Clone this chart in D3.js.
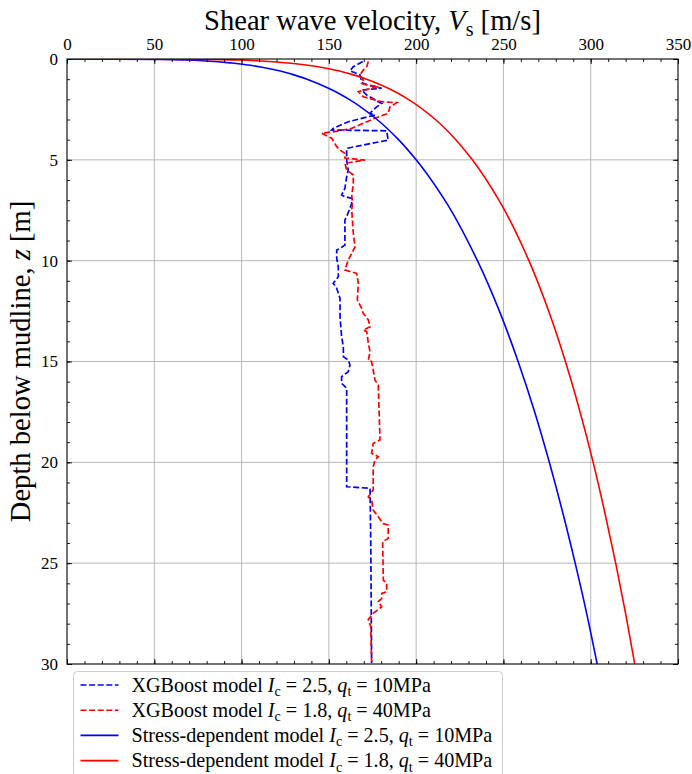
<!DOCTYPE html>
<html>
<head>
<meta charset="utf-8">
<script src="https://cdn.jsdelivr.net/npm/d3@7"></script>
<style>
body { margin: 0; background: #fff; }
text { font-family: "Liberation Serif", "DejaVu Serif", serif; fill: #000; }
</style>
</head>
<body>
<div class="vs-plot"></div>
<script>
// Stress-dependent model curves
const modelDepth = [0, 0.02, 0.05, 0.1, 0.2, 0.3, 0.5, 0.75, 1, 1.5, 2, 3, 4, 5, 7, 10, 12.5, 15, 17.5, 20, 22.5, 25, 27.5, 30];
const modelVsSoft = [0, 55, 68, 80, 94.5, 103.8, 117, 128.6, 137.5, 151, 161.6, 177.6, 189.9, 200, 216.4, 235.1, 247.7, 258.4, 267.9, 276.3, 284, 291.1, 297.7, 303.7];
const modelVsDense = [0, 82.2, 97.7, 111.3, 126.8, 136.9, 150.7, 162.6, 171.6, 185.2, 195.5, 211, 222.7, 232.2, 247.4, 264.6, 275.9, 285.5, 293.9, 301.4, 308.1, 314.3, 320, 325.2];

// XGBoost profile, Ic = 2.5, qt = 10MPa
const xgbSoftDepth = [0.13, 0.38, 0.58, 0.79, 1.13, 1.21, 1.40, 1.45, 1.54, 1.79, 2.12, 2.20, 2.37, 2.61, 2.69, 2.78, 3.11, 3.44, 3.52, 3.56, 4.02, 4.43, 5.01, 5.50, 5.84, 6.41, 6.74, 6.83, 6.91, 7.16, 7.82, 7.98, 9.22, 9.39, 9.47, 9.88, 10.30, 10.80, 11.12, 11.37, 11.87, 12.78, 13.77, 14.27, 14.76, 14.93, 15.17, 15.51, 15.75, 16.08, 16.33, 21.21, 21.29, 23.9, 29.95];
const xgbSoftVs = [169.4, 164.0, 162.1, 167.8, 168.8, 169.7, 176.4, 180.3, 168.8, 171.7, 178.3, 180.3, 177.4, 174.5, 173.6, 176.4, 161.1, 152.5, 151.6, 183.1, 184.0, 160.2, 160.2, 161.1, 160.2, 159.2, 157.3, 159.2, 163.1, 163.1, 160.2, 159.2, 159.2, 156.4, 154.5, 154.5, 155.4, 155.4, 152.5, 154.5, 156.4, 156.4, 157.3, 158.3, 158.3, 161.1, 162.1, 161.1, 157.3, 157.3, 160.2, 160.2, 173.6, 174.0, 174.5];

// XGBoost profile, Ic = 1.8, qt = 40MPa
const xgbDenseDepth = [0.13, 0.38, 0.55, 0.79, 1.04, 1.21, 1.29, 1.37, 1.62, 1.87, 2.12, 2.17, 2.37, 2.69, 2.94, 3.11, 3.44, 3.61, 3.68, 3.93, 4.35, 4.51, 4.68, 4.91, 5.01, 5.17, 5.50, 5.75, 6.16, 6.83, 7.08, 7.49, 8.64, 9.31, 9.64, 9.97, 10.46, 10.63, 11.12, 11.95, 12.36, 12.61, 12.94, 13.28, 13.44, 13.52, 14.10, 14.52, 14.93, 15.01, 15.42, 15.92, 16.17, 18.89, 19.06, 19.55, 19.72, 19.89, 20.22, 21.37, 21.71, 21.87, 22.37, 22.70, 23.04, 23.11, 23.77, 23.94, 25.84, 26.00, 26.42, 26.50, 26.75, 26.91, 27.16, 27.49, 27.79, 28.15, 29.89];
const xgbDenseVs = [172.6, 171.7, 169.7, 167.8, 169.7, 168.8, 171.7, 178.3, 166.9, 169.7, 180.3, 188.9, 185.0, 184.0, 176.4, 171.7, 163.1, 152.5, 145.9, 151.6, 154.5, 156.4, 159.2, 159.2, 170.7, 159.2, 160.2, 164.0, 164.0, 163.1, 163.6, 163.1, 164.0, 165.0, 163.1, 161.1, 159.2, 165.9, 166.9, 166.3, 168.8, 169.7, 172.6, 173.6, 169.7, 171.7, 172.6, 173.6, 172.6, 174.5, 175.4, 176.4, 178.3, 179.3, 175.4, 174.5, 178.3, 176.4, 175.4, 175.4, 172.6, 174.5, 175.4, 178.3, 181.2, 184.0, 184.0, 180.8, 181.2, 183.1, 183.1, 180.3, 180.3, 178.3, 180.3, 175.4, 172.6, 174.0, 174.5];

const xTicks = [0, 50, 100, 150, 200, 250, 300, 350];
const yTicks = [0, 5, 10, 15, 20, 25, 30];
const xMinorTicks = d3.range(0, 351, 10);
const yMinorTicks = d3.range(0, 31, 1);

// legend rows: parts are [text, italic?, subscript?]
const legendRows = [
	{ dash: true, color: 'blue', parts: [['XGBoost model '], ['I', 1], ['c', 0, 1], [' = 2.5, '], ['q', 1], ['t', 0, 1], [' = 10MPa']] },
	{ dash: true, color: 'red', parts: [['XGBoost model '], ['I', 1], ['c', 0, 1], [' = 1.8, '], ['q', 1], ['t', 0, 1], [' = 40MPa']] },
	{ dash: false, color: 'blue', parts: [['Stress-dependent model '], ['I', 1], ['c', 0, 1], [' = 2.5, '], ['q', 1], ['t', 0, 1], [' = 10MPa']] },
	{ dash: false, color: 'red', parts: [['Stress-dependent model '], ['I', 1], ['c', 0, 1], [' = 1.8, '], ['q', 1], ['t', 0, 1], [' = 40MPa']] }
];
const xLabelParts = [['Shear wave velocity, '], ['V', 1], ['s', 0, 1], [' [m/s]']];
const yLabelParts = [['Depth below mudline, '], ['z', 1], [' [m]']];

const W = 692, H = 774;
const margin = { left: 67, top: 59, right: 14, bottom: 110 };
const pw = W - margin.left - margin.right;
const ph = H - margin.top - margin.bottom;

const svg = d3.select('.vs-plot').append('svg')
	.attr('width', W)
	.attr('height', H);

const x = d3.scaleLinear().domain([0, 350]).range([0, pw]);
const y = d3.scaleLinear().domain([0, 30]).range([0, ph]);

const g = svg.append('g').attr('transform', `translate(${margin.left},${margin.top})`);

g.append('clipPath').attr('id', 'clip')
	.append('rect').attr('width', pw).attr('height', ph);

// grid
g.append('g').selectAll('line.gx')
	.data(xTicks.slice(1, -1))
	.enter().append('line')
	.attr('x1', d => x(d)).attr('x2', d => x(d))
	.attr('y1', 0).attr('y2', ph)
	.attr('stroke', '#b0b0b0').attr('stroke-width', 0.9);
g.append('g').selectAll('line.gy')
	.data(yTicks.slice(1, -1))
	.enter().append('line')
	.attr('y1', d => y(d)).attr('y2', d => y(d))
	.attr('x1', 0).attr('x2', pw)
	.attr('stroke', '#b0b0b0').attr('stroke-width', 0.9);

// lines
const lineOf = (xs, zs, curve) => d3.line()
	.x((d, i) => x(xs[i]))
	.y((d, i) => y(zs[i]))
	.curve(curve)(zs);

const lines = g.append('g').attr('clip-path', 'url(#clip)');
lines.append('path')
	.attr('d', lineOf(xgbSoftVs, xgbSoftDepth, d3.curveLinear))
	.attr('fill', 'none').attr('stroke', 'blue').attr('stroke-width', 1.7)
	.attr('stroke-dasharray', '6,2.6');
lines.append('path')
	.attr('d', lineOf(xgbDenseVs, xgbDenseDepth, d3.curveLinear))
	.attr('fill', 'none').attr('stroke', 'red').attr('stroke-width', 1.7)
	.attr('stroke-dasharray', '6,2.6');
lines.append('path')
	.attr('d', lineOf(modelVsSoft, modelDepth, d3.curveMonotoneY))
	.attr('fill', 'none').attr('stroke', 'blue').attr('stroke-width', 1.6);
lines.append('path')
	.attr('d', lineOf(modelVsDense, modelDepth, d3.curveMonotoneY))
	.attr('fill', 'none').attr('stroke', 'red').attr('stroke-width', 1.6);

// ticks, all pointing inwards
function ticks(axisFn, scale, values, size, transform, labels) {
	const a = g.append('g')
		.attr('transform', transform)
		.call(axisFn(scale).tickValues(values).tickSizeInner(-size).tickSizeOuter(0)
			.tickPadding(labels ? 9 : 0).tickFormat(labels ? d3.format('d') : () => ''));
	a.select('.domain').remove();
	a.selectAll('line').attr('stroke', '#000').attr('stroke-width', 0.9);
	a.selectAll('text')
		.style('font-size', '17px')
		.style('font-family', '"Liberation Serif", serif')
		.attr('fill', '#000');
	return a;
}
ticks(d3.axisTop, x, xMinorTicks, 3, 'translate(0,0)', false);
ticks(d3.axisTop, x, xTicks, 5, 'translate(0,0)', true);
ticks(d3.axisBottom, x, xMinorTicks, 3, `translate(0,${ph})`, false);
ticks(d3.axisBottom, x, xTicks, 5, `translate(0,${ph})`, false);
ticks(d3.axisLeft, y, yMinorTicks, 3, 'translate(0,0)', false);
ticks(d3.axisLeft, y, yTicks, 5, 'translate(0,0)', true);
ticks(d3.axisRight, y, yMinorTicks, 3, `translate(${pw},0)`, false);
ticks(d3.axisRight, y, yTicks, 5, `translate(${pw},0)`, false);

// frame
g.append('rect')
	.attr('width', pw).attr('height', ph)
	.attr('fill', 'none').attr('stroke', '#000').attr('stroke-width', 1.1);

// helper: text with italic letters and subscripts
function richText(sel, parts, size) {
	let shifted = false;
	parts.forEach(p => {
		const t = sel.append('tspan').text(p[0]);
		if (p[1]) t.attr('font-style', 'italic');
		if (p[2]) {
			t.attr('font-size', size * 0.7).attr('dy', size * 0.22);
			shifted = true;
		} else if (shifted) {
			t.attr('dy', -size * 0.22);
			shifted = false;
		}
	});
}
// font size that makes a rich text a given width
function fitSize(parent, parts, target) {
	const probe = parent.append('text').attr('font-size', 20);
	richText(probe, parts, 20);
	const w = probe.node().getComputedTextLength();
	probe.remove();
	return 20 * target / w;
}

// axis labels
const s = fitSize(svg, xLabelParts, 337);
const xLabel = svg.append('text')
	.attr('x', margin.left + pw / 2).attr('y', 30)
	.attr('text-anchor', 'middle').attr('font-size', s);
richText(xLabel, xLabelParts, s);

const yLabel = svg.append('text')
	.attr('transform', `translate(30,${margin.top + ph / 2}) rotate(-90)`)
	.attr('text-anchor', 'middle').attr('font-size', s);
richText(yLabel, yLabelParts, s);

// legend
const leg = svg.append('g').attr('transform', 'translate(73.5,671.5)');
leg.append('rect')
	.attr('width', 429).attr('height', 120).attr('rx', 4)
	.attr('fill', '#fff').attr('fill-opacity', 0.85)
	.attr('stroke', '#cccccc').attr('stroke-width', 1);

const ls = fitSize(leg, legendRows[2].parts, 361);

legendRows.forEach((r, i) => {
	const cy = 13.5 + i * 25.2;
	leg.append('line')
		.attr('x1', 7).attr('x2', 45).attr('y1', cy).attr('y2', cy)
		.attr('stroke', r.color).attr('stroke-width', 1.6)
		.attr('stroke-dasharray', r.dash ? '6,2.6' : null);
	const t = leg.append('text')
		.attr('x', 58).attr('y', cy + ls * 0.33)
		.attr('font-size', ls);
	richText(t, r.parts, ls);
});
</script>
</body>
</html>
